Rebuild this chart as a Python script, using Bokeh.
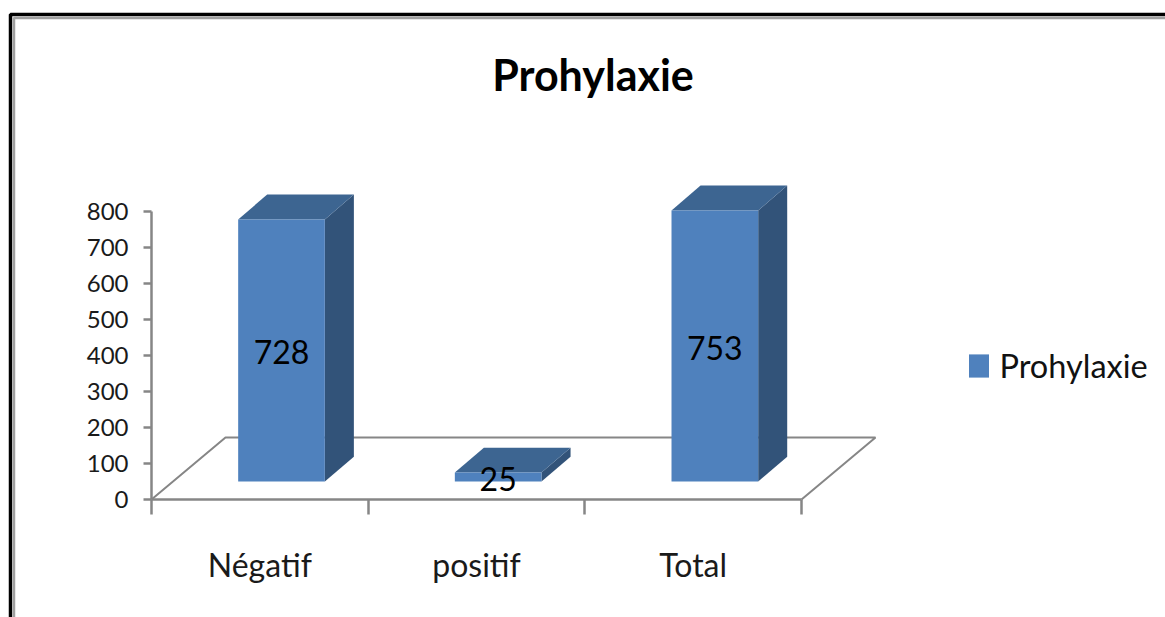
from bokeh.plotting import figure
from bokeh.models import Range1d, FixedTicker, Legend, LegendItem, ColumnDataSource, Label, LinearAxis
from bokeh.core.properties import value
from bokeh.embed import file_html
from bokeh.resources import INLINE

title_text = "Prohylaxie"
series_name = "Prohylaxie"
categories = ["Négatif", "positif", "Total"]
values = [728, 25, 753]
y_ticks = [0, 100, 200, 300, 400, 500, 600, 700, 800]

FONT = "Lato"
GREY = "#868686"
FRONT, TOP, SIDE = "#4f81bd", "#3d6591", "#325379"

W, H = 1165, 617
X0, Y0 = 151, 499      # page pixel of the axes' origin
SX, SY = 216.67, 0.36  # pixels per category, pixels per value unit

# pseudo-3D geometry, in data units
BASE = 50             # height of bar bases above the floor's front edge
DX, DY = 0.134, 69    # bar depth
FX, FY = 0.3415, 172  # floor depth
HALF = 0.2            # half bar width
SHIFT = 0.6           # bar centre within a category


def dx(px):
    return (px - X0) / SX


def dy(py):
    return (Y0 - py) / SY


p = figure(width=W, height=H, output_backend="svg", toolbar_location=None,
           x_range=Range1d(dx(0), dx(W)), y_range=Range1d(dy(H), dy(0)),
           x_axis_type=None, y_axis_type=None,
           min_border=0, background_fill_color="white", border_fill_color="white",
           outline_line_color=None)
p.grid.visible = False

# outer picture frame
p.line([dx(10), dx(10), dx(W)], [dy(H), dy(14), dy(14)], line_color="#000000", line_width=3.5)
p.line([dx(13.5), dx(13.5), dx(W)], [dy(H), dy(17.5), dy(17.5)], line_color="#a0a0a0", line_width=2.5)

# axes
y = LinearAxis(fixed_location=0)
y.ticker = FixedTicker(ticks=y_ticks)
y.bounds = (0, 800)
y.major_tick_out, y.major_tick_in, y.minor_tick_out, y.minor_tick_in = 8, 0, 0, 0
y.axis_line_color = GREY
y.axis_line_width = 2.5
y.major_tick_line_color = GREY
y.major_tick_line_width = 2.5
y.major_label_text_font = FONT
y.major_label_text_font_size = "24px"
y.major_label_text_color = "#1a1a1a"
y.major_label_standoff = 15
p.add_layout(y, "left")

n = len(categories)
centres = [i + 0.5 for i in range(n)]
x = LinearAxis(fixed_location=0)
x.ticker = FixedTicker(ticks=centres, minor_ticks=list(range(n + 1)))
x.major_label_overrides = dict(zip(centres, categories))
x.bounds = (0, n)
x.major_tick_line_color = None
x.major_tick_out, x.major_tick_in = 0, 0
x.minor_tick_out, x.minor_tick_in = 15, 0
x.minor_tick_line_color = GREY
x.minor_tick_line_width = 2.5
x.axis_line_color = GREY
x.axis_line_width = 2.5
x.major_label_text_font = FONT
x.major_label_text_font_size = "32px"
x.major_label_text_color = "#1a1a1a"
x.major_label_standoff = 30
p.add_layout(x, "below")

# floor outline
p.line([0, FX, n + FX, n], [0, FY, FY, 0], line_color=GREY, line_width=2)

# bars
lefts = [i + SHIFT - HALF for i in range(n)]
rights = [i + SHIFT + HALF for i in range(n)]
tops = [BASE + v for v in values]

p.patches([[r, r + DX, r + DX, r] for r in rights],
          [[BASE, BASE + DY, t + DY, t] for t in tops],
          fill_color=SIDE, line_color=None)
p.patches([[l, l + DX, r + DX, r] for l, r in zip(lefts, rights)],
          [[t, t + DY, t + DY, t] for t in tops],
          fill_color=TOP, line_color=None)
bars = p.vbar(x=[i + SHIFT for i in range(n)], width=2 * HALF, bottom=BASE, top=tops,
              fill_color=FRONT, line_color=None)

# data labels
src = ColumnDataSource(dict(x=[i + SHIFT for i in range(n)],
                            y=[BASE + v / 2 for v in values],
                            t=[str(v) for v in values]))
p.text("x", "y", text="t", source=src, text_font=value(FONT), text_font_size="32px",
       text_align="center", text_baseline="middle", text_color="#000000", y_offset=2)

# title
p.add_layout(Label(x=dx(592.5), y=dy(74), text=title_text, text_font=FONT, text_font_size="43px",
                   text_font_style="bold", text_color="#000000",
                   text_align="center", text_baseline="middle"))

legend = Legend(items=[LegendItem(label=series_name, renderers=[bars])],
                location=(965.5, 232), padding=0, margin=0, border_line_color=None,
                background_fill_color=None, background_fill_alpha=0,
                glyph_width=25, glyph_height=29, label_standoff=9,
                label_text_font=FONT, label_text_font_size="32.5px", label_text_color="#111111")
p.add_layout(legend)

open("out.html", "w").write(file_html(p, INLINE))
